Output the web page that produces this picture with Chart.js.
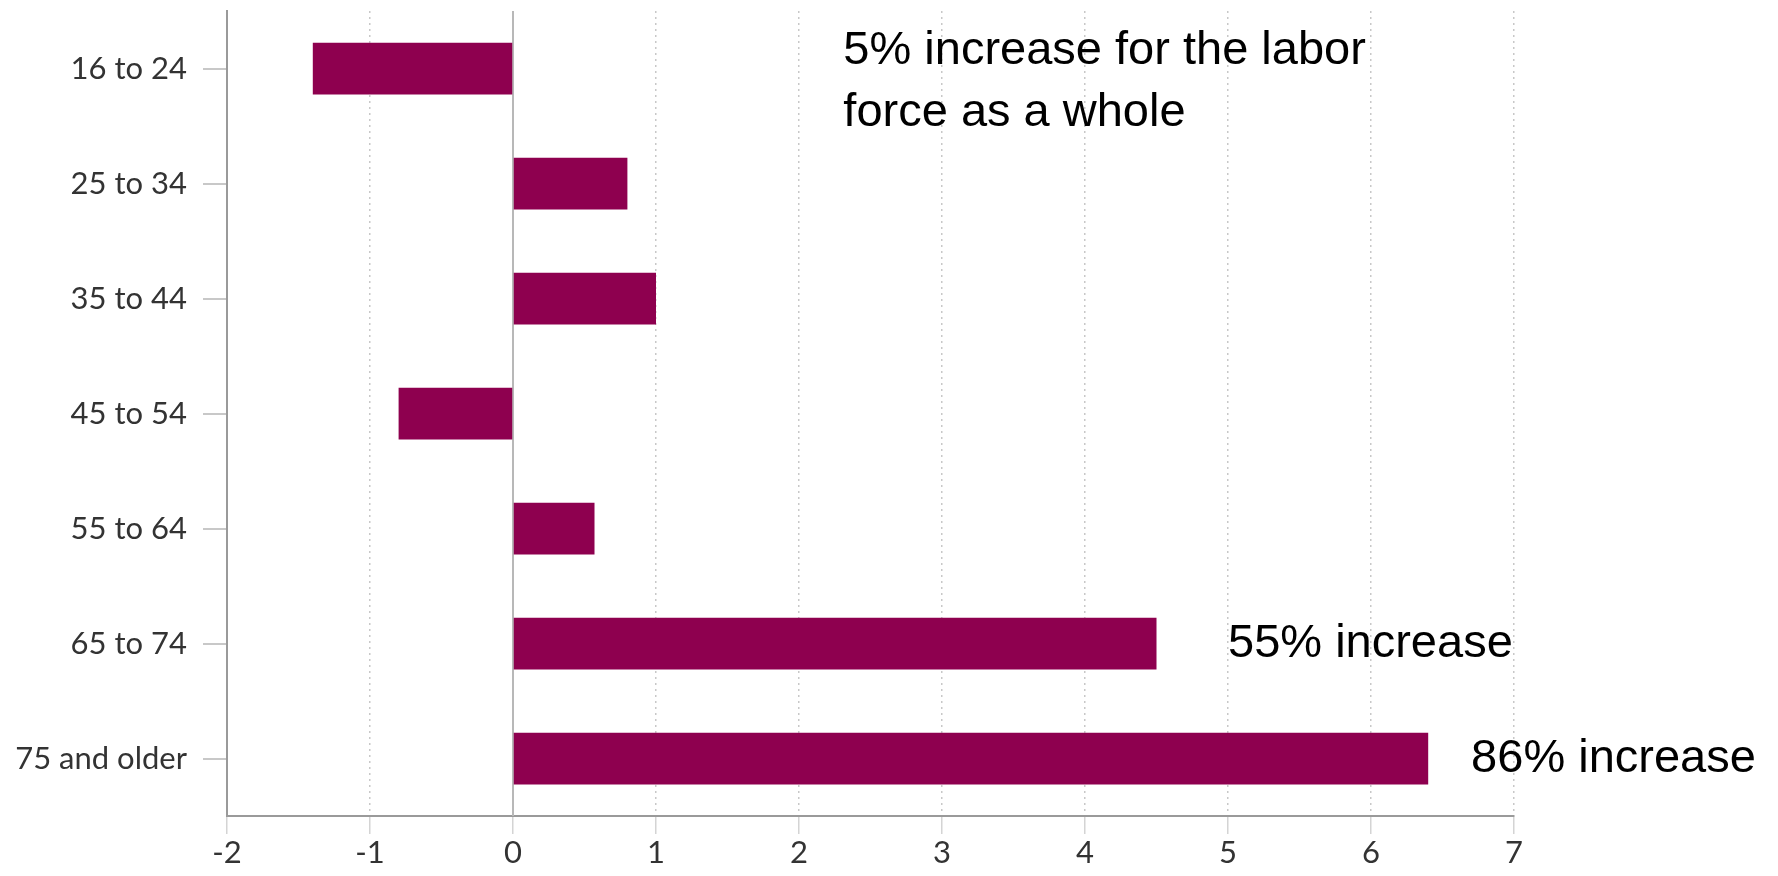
<!DOCTYPE html>
<html>
<head>
<meta charset="utf-8">
<script src="https://cdn.jsdelivr.net/npm/chart.js@4"></script>
<style>
  html, body { margin: 0; padding: 0; background: #fff; }
  #wrap { width: 1778px; height: 876px; position: relative; }
</style>
</head>
<body>
<div id="wrap"><canvas id="chart"></canvas></div>
<script>
// Tranches d'âge et variation (points)
const ageGroups = ["16 to 24", "25 to 34", "35 to 44", "45 to 54", "55 to 64", "65 to 74", "75 and older"];
const changeValues = [-1.4, 0.8, 1.0, -0.8, 0.57, 4.5, 6.4];
const xTicks = [-2, -1, 0, 1, 2, 3, 4, 5, 6, 7];

// Textes ajoutés sur le graphique
const noteLines = ["5% increase for the labor", "force as a whole"];
const sideNotes = ["55% increase", "86% increase"];
const sideNoteRows = [5, 6];
const sideNoteX = [5.0, 6.7];

const barColor = "#8E004F";
const tickFont = { family: "Lato, 'Open Sans', sans-serif", size: 31 };

// Ligne du zéro (pleine) et annotations
const notesPlugin = {
  id: "notes",
  beforeDatasetsDraw(chart) {
    const { ctx, chartArea, scales } = chart;
    const x0 = scales.x.getPixelForValue(0);
    ctx.save();
    ctx.strokeStyle = "#b8b8b8";
    ctx.lineWidth = 2;
    ctx.beginPath();
    ctx.moveTo(x0, chartArea.top);
    ctx.lineTo(x0, chartArea.bottom);
    ctx.stroke();
    ctx.restore();
  },
  afterDraw(chart) {
    const { ctx, scales } = chart;
    ctx.save();
    ctx.fillStyle = "#000";
    ctx.font = "47px 'Liberation Sans', Arial, sans-serif";
    ctx.textAlign = "left";
    ctx.textBaseline = "middle";

    const xa = scales.x.getPixelForValue(2.31);
    const ya = scales.y.getPixelForValue(0);
    noteLines.forEach((line, i) => {
      ctx.fillText(line, xa, ya - 17 + i * 62);
    });

    sideNotes.forEach((txt, i) => {
      const x = scales.x.getPixelForValue(sideNoteX[i]);
      const y = scales.y.getPixelForValue(sideNoteRows[i]);
      ctx.fillText(txt, x, y + 1);
    });
    ctx.restore();
  }
};

new Chart(document.getElementById("chart").getContext("2d"), {
  type: "bar",
  data: {
    labels: ageGroups,
    datasets: [
      {
        data: changeValues,
        backgroundColor: barColor,
        borderWidth: 0,
        categoryPercentage: 1.0,
        barPercentage: 0.45,
      },
    ],
  },
  options: {
    indexAxis: "y",
    responsive: true,
    maintainAspectRatio: false,
    devicePixelRatio: 1,
    animation: false,
    layout: { padding: { top: 11, right: 264, bottom: 0, left: 0 } },
    plugins: {
      legend: { display: false },
      tooltip: { enabled: false },
    },
    scales: {
      x: {
        min: -2,
        max: 7,
        afterBuildTicks(scale) {
          scale.ticks = xTicks.map((v) => ({ value: v }));
        },
        afterFit(scale) {
          scale.height = 60;
          scale.paddingLeft = 0;
          scale.paddingRight = 0;
        },
        grid: {
          color: "#c8c8c8",
          lineWidth: 1.5,
          drawTicks: true,
          tickLength: 18,
          tickColor: "#d4d4d4",
        },
        border: { display: true, color: "#9a9a9a", width: 2, dash: [2, 4] },
        ticks: { font: tickFont, color: "#333", padding: 0 },
      },
      y: {
        afterFit(scale) {
          scale.width = 227;
          scale.paddingTop = 0;
          scale.paddingBottom = 0;
        },
        grid: {
          offset: false,
          drawOnChartArea: false,
          drawTicks: true,
          tickLength: 24,
          tickColor: "#c8c8c8",
          lineWidth: 2,
        },
        border: { display: true, color: "#9a9a9a", width: 2 },
        ticks: { font: tickFont, color: "#333", padding: 16 },
      },
    },
  },
  plugins: [notesPlugin],
});
</script>
</body>
</html>
